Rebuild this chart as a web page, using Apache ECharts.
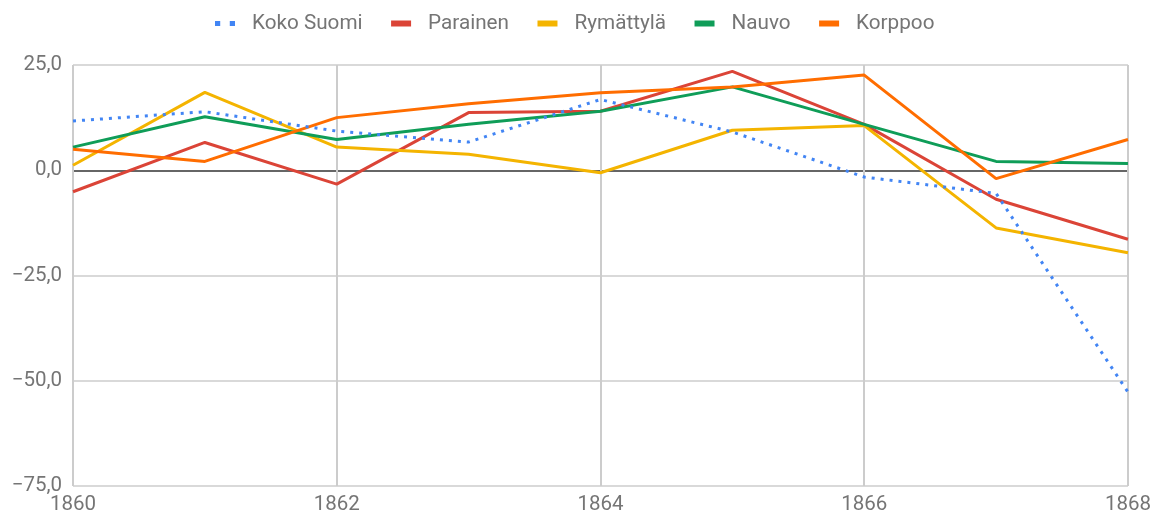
<!DOCTYPE html>
<html>
<head>
<meta charset="utf-8">
<script src="https://cdn.jsdelivr.net/npm/echarts@6/dist/echarts.min.js"></script>
<style>
  html, body { margin: 0; padding: 0; background: #fff; }
  #chart { width: 1154px; height: 516px; }
</style>
</head>
<body>
<div id="chart"></div>
<script>
// vuosimuutos, 1860-1868
var years = [1860, 1861, 1862, 1863, 1864, 1865, 1866, 1867, 1868]
var kokoSuomi = [11.7, 13.9, 9.3, 6.7, 16.8, 9.1, -1.6, -5.5, -52.7]
var parainen = [-5.1, 6.6, -3.3, 13.7, 14.0, 23.5, 10.9, -6.9, -16.4]
var rymattyla = [1.2, 18.5, 5.5, 3.8, -0.6, 9.5, 10.6, -13.7, -19.6]
var nauvo = [5.5, 12.7, 7.3, 10.9, 14.0, 19.8, 10.9, 2.1, 1.6]
var korppoo = [5.0, 2.1, 12.5, 15.8, 18.4, 19.8, 22.6, -2.0, 7.3]
var yTicks = [-75, -50, -25, 0, 25]

function pairs(vals) {
  return years.map(function(y, i) { return [y, vals[i]] })
}

var chart = echarts.init(document.getElementById('chart'))
var font = 'Roboto, "Noto Sans", sans-serif'

function line(name, color, vals, dotted) {
  return {
    name: name,
    type: 'line',
    data: pairs(vals),
    showSymbol: false,
    symbol: 'none',
    lineStyle: { color: color, width: 3, type: dotted ? [3, 6] : 'solid', cap: 'butt' },
    itemStyle: { color: color },
    z: dotted ? 3 : 2
  }
}

var option = {
  animation: false,
  textStyle: { fontFamily: font },
  legend: {
    top: 8,
    left: 210,
    itemGap: 28.5,
    itemWidth: 20,
    itemHeight: 6,
    textStyle: { color: '#757575', fontSize: 20.7, fontFamily: font, padding: [0, 0, 0, 12] },
    data: [
      { name: 'Koko Suomi', icon: 'path://M0,0H6V6H0Z M17,0H23V6H17Z' },
      { name: 'Parainen', icon: 'rect' },
      { name: 'Rymättylä', icon: 'rect' },
      { name: 'Nauvo', icon: 'rect' },
      { name: 'Korppoo', icon: 'rect' }
    ]
  },
  grid: { left: 73, right: 25, top: 65, bottom: 30 },
  xAxis: {
    type: 'value',
    min: 1860,
    max: 1868,
    interval: 2,
    axisLine: { show: false },
    axisTick: { show: false },
    axisLabel: {
      color: '#757575', fontSize: 20.5, fontFamily: font, margin: 8,
      formatter: function(v) { return String(v) }
    },
    splitLine: { show: true, lineStyle: { color: '#cccccc', width: 2 } }
  },
  yAxis: {
    type: 'value',
    min: yTicks[0],
    max: yTicks[yTicks.length - 1],
    interval: 25,
    axisLine: { show: false },
    axisTick: { show: false },
    axisLabel: {
      color: '#757575', fontSize: 20.5, fontFamily: font, margin: 11,
      formatter: function(v) { return v.toFixed(1).replace('.', ',').replace('-', '\u2212') }
    },
    splitLine: {
      lineStyle: { color: ['#cccccc', '#cccccc', '#cccccc', '#333333', '#cccccc'], width: 1.5 }
    }
  },
  series: [
    line('Koko Suomi', '#4285F4', kokoSuomi, true),
    line('Parainen', '#DB4437', parainen),
    line('Rymättylä', '#F4B400', rymattyla),
    line('Nauvo', '#0F9D58', nauvo),
    line('Korppoo', '#FF6D00', korppoo)
  ]
}
chart.setOption(option)
</script>
</body>
</html>
